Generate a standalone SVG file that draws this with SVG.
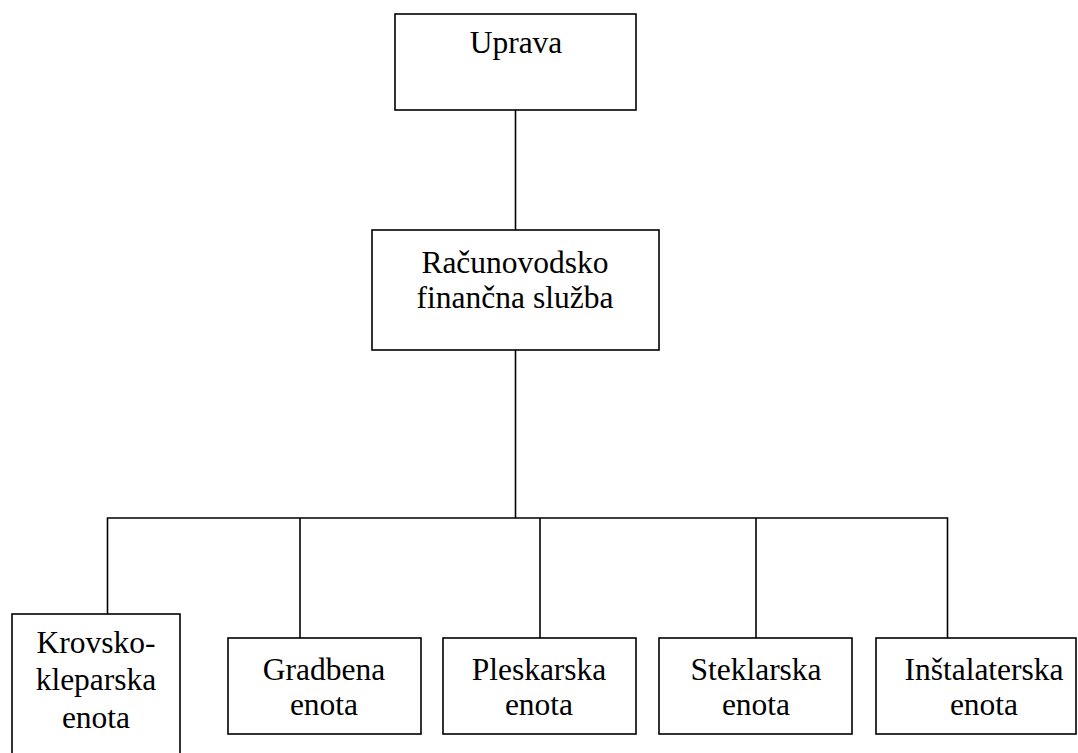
<svg xmlns="http://www.w3.org/2000/svg" width="1078" height="753" viewBox="0 0 1078 753">
<style>
.box{fill:#fff;stroke:#000;stroke-width:1.6}
.ln{fill:none;stroke:#000;stroke-width:1.6}
text{font-family:"Liberation Serif","Times New Roman",serif;font-size:31.5px;fill:#000;text-anchor:middle}
</style>
<rect width="1078" height="753" fill="#fff"/>
<g id="connectors">
<line class="ln" x1="515.5" y1="110" x2="515.5" y2="230"/>
<line class="ln" x1="515.5" y1="350" x2="515.5" y2="518"/>
<polyline class="ln" points="107.5,614 107.5,518 947.5,518 947.5,638"/>
<line class="ln" x1="300" y1="518" x2="300" y2="638"/>
<line class="ln" x1="540" y1="518" x2="540" y2="638"/>
<line class="ln" x1="756" y1="518" x2="756" y2="638"/>
</g>
<g id="uprava">
<rect class="box" x="395" y="14" width="241" height="96"/>
<text x="516" y="53">Uprava</text>
</g>
<g id="racunovodstvo">
<rect class="box" x="372" y="230" width="287" height="120"/>
<text x="515" y="273">Računovodsko</text>
<text x="515" y="308">finančna služba</text>
</g>
<g id="krovsko">
<rect class="box" x="12" y="614" width="168" height="150"/>
<text x="96" y="653">Krovsko-</text>
<text x="96" y="690">kleparska</text>
<text x="96" y="728">enota</text>
</g>
<g id="gradbena">
<rect class="box" x="228" y="638" width="193" height="96"/>
<text x="324" y="680">Gradbena</text>
<text x="324" y="715">enota</text>
</g>
<g id="pleskarska">
<rect class="box" x="443" y="638" width="193" height="96"/>
<text x="539" y="680">Pleskarska</text>
<text x="539" y="715">enota</text>
</g>
<g id="steklarska">
<rect class="box" x="659" y="638" width="193" height="96"/>
<text x="756" y="680">Steklarska</text>
<text x="756" y="715">enota</text>
</g>
<g id="instalaterska">
<rect class="box" x="876" y="638" width="200" height="96"/>
<text x="984" y="680">Inštalaterska</text>
<text x="984" y="715">enota</text>
</g>
</svg>
